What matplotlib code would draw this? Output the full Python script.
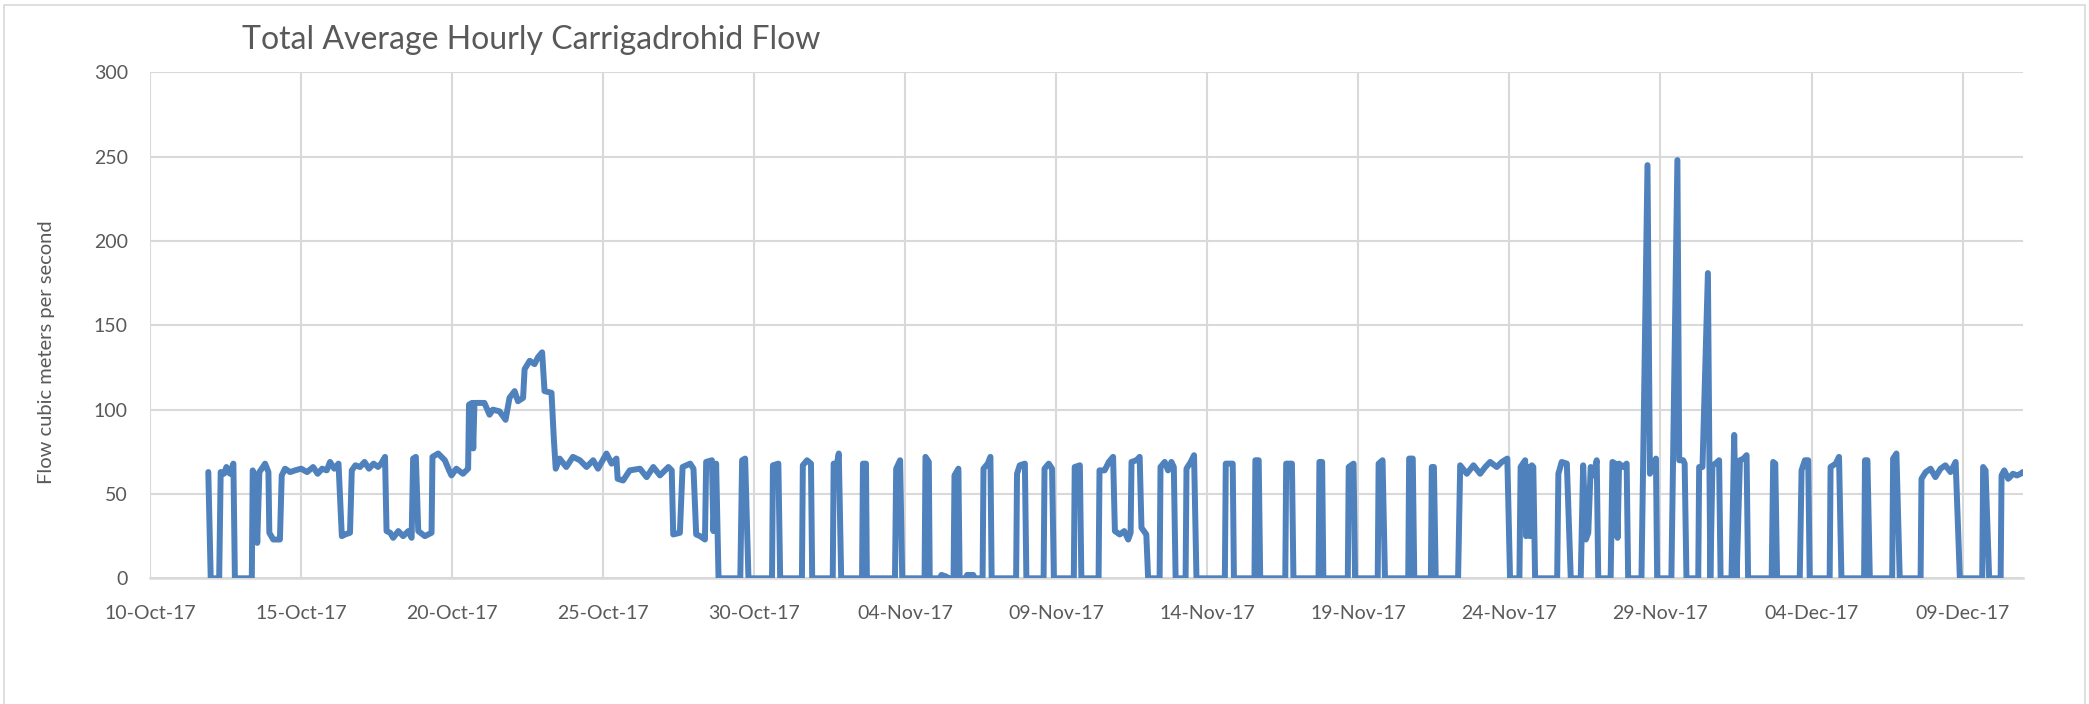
import datetime as dt
import numpy as np
import matplotlib
matplotlib.use("Agg")
import matplotlib.pyplot as plt
import matplotlib.dates as mdates
from matplotlib.patches import Rectangle

plt.rcParams['font.family'] = ['Lato', 'DejaVu Sans']

# day offsets from 10-Oct-2017 00:00 and average hourly flow (m3/s)
start = dt.datetime(2017, 10, 10)

oct_days = [1.93, 2.01, 2.29, 2.34, 2.45, 2.53, 2.60, 2.65, 2.76, 2.81,
            3.37, 3.40, 3.48, 3.55, 3.62, 3.70, 3.81, 3.92, 3.95, 4.08,
            4.30, 4.36, 4.47, 4.64, 4.80, 5.00, 5.20, 5.40, 5.55, 5.70,
            5.85, 5.96, 6.10, 6.24, 6.35, 6.46, 6.62, 6.68, 6.80, 6.95,
            7.10, 7.25, 7.40, 7.55, 7.65, 7.78, 7.83, 7.95, 8.05, 8.22,
            8.38, 8.55, 8.66, 8.71, 8.80, 8.88, 9.10, 9.32, 9.35, 9.54,
            9.76, 9.90, 9.98, 10.14, 10.36, 10.53, 10.56, 10.66, 10.70, 10.74,
            11.07, 11.24, 11.35, 11.57, 11.77, 11.90, 12.07, 12.18, 12.35, 12.40,
            12.57, 12.73, 12.84, 12.98, 13.06, 13.29, 13.37, 13.43, 13.56, 13.78,
            14.00, 14.23, 14.45, 14.67, 14.83, 15.11, 15.28, 15.44, 15.48, 15.66,
            15.88, 16.22, 16.44, 16.66, 16.88, 17.16, 17.27, 17.32, 17.54, 17.63,
            17.88, 17.99, 18.08, 18.21, 18.37, 18.41, 18.60, 18.65, 18.74, 18.82,
            19.54, 19.60, 19.70, 19.81, 20.59, 20.62, 20.80, 20.86]
oct_flow = [63, 0, 0, 63, 62, 66, 63, 62, 68, 0,
            0, 64, 60, 21, 63, 65, 68, 63, 27, 23,
            23, 61, 65, 63, 64, 65, 63, 66, 62, 65,
            64, 69, 65, 68, 25, 26, 27, 64, 67, 66,
            69, 65, 68, 66, 68, 72, 28, 27, 24, 28,
            25, 28, 24, 71, 72, 28, 25, 27, 72, 74,
            70, 64, 61, 65, 62, 65, 103, 104, 77, 104,
            104, 97, 100, 99, 94, 107, 111, 105, 107, 124,
            129, 127, 131, 134, 111, 110, 82, 65, 71, 66,
            72, 70, 66, 70, 65, 74, 68, 71, 59, 58,
            64, 65, 60, 66, 61, 66, 64, 26, 27, 66,
            68, 65, 26, 25, 23, 69, 70, 28, 68, 0,
            0, 70, 71, 0, 0, 67, 68, 0]

nov_days = [21.58, 21.61, 21.75, 21.88, 21.92, 22.60, 22.63, 22.72, 22.80, 22.88,
            23.57, 23.60, 23.70, 23.73, 24.66, 24.70, 24.83, 24.90, 25.64, 25.67,
            25.78, 25.81, 26.14, 26.20, 26.36, 26.42, 26.60, 26.63, 26.76, 26.80,
            27.00, 27.05, 27.25, 27.30, 27.56, 27.59, 27.73, 27.82, 27.86, 28.67,
            28.70, 28.79, 28.96, 29.01, 29.58, 29.61, 29.75, 29.86, 29.92, 30.58,
            30.61, 30.78, 30.83, 31.40, 31.43, 31.60, 31.74, 31.88, 31.94, 32.10,
            32.25, 32.38, 32.46, 32.49, 32.65, 32.76, 32.82, 32.98, 33.04, 33.42,
            33.45, 33.59, 33.70, 33.81, 33.89, 33.95, 34.28, 34.31, 34.45, 34.56,
            34.64, 35.58, 35.61, 35.84, 35.88, 36.56, 36.59, 36.70, 36.75, 37.58,
            37.61, 37.80, 37.85, 38.68, 38.71, 38.80, 38.84, 39.65, 39.68, 39.84,
            39.89, 40.64, 40.67, 40.80, 40.88, 41.65, 41.68, 41.80, 41.85, 42.40,
            42.43, 42.50, 42.56, 43.30, 43.37, 43.59, 43.81, 44.03, 44.20, 44.36,
            44.58, 44.75, 44.93, 45.02, 45.33, 45.37, 45.52, 45.55, 45.63, 45.68,
            45.74, 45.79, 45.85, 46.58, 46.62, 46.73, 46.90, 47.03, 47.36, 47.44,
            47.53, 47.61, 47.69, 47.78, 47.89, 47.94, 48.35, 48.41, 48.50, 48.58,
            48.63, 48.76, 48.88, 48.93, 49.37, 49.57, 49.65, 49.76, 49.85, 49.89,
            50.36, 50.56, 50.62, 50.75, 50.80, 50.86]
nov_flow = [0, 67, 70, 68, 0, 0, 68, 66, 74, 0,
            0, 68, 68, 0, 0, 65, 70, 0, 0, 72,
            69, 0, 0, 2, 1, 0, 0, 61, 65, 0,
            0, 2, 2, 0, 0, 65, 68, 72, 0, 0,
            62, 67, 68, 0, 0, 65, 68, 65, 0, 0,
            66, 67, 0, 0, 64, 64, 69, 72, 28, 26,
            28, 23, 27, 69, 70, 72, 30, 26, 0, 0,
            66, 69, 64, 69, 66, 0, 0, 65, 69, 73,
            0, 0, 68, 68, 0, 0, 70, 70, 0, 0,
            68, 68, 0, 0, 69, 69, 0, 0, 66, 68,
            0, 0, 68, 70, 0, 0, 71, 71, 0, 0,
            66, 66, 0, 0, 67, 62, 67, 62, 66, 69,
            66, 69, 71, 0, 0, 66, 70, 25, 66, 25,
            67, 66, 0, 0, 62, 69, 68, 0, 0, 67,
            23, 27, 66, 61, 70, 0, 0, 69, 68, 24,
            68, 66, 68, 0, 0, 245, 62, 68, 71, 0,
            0, 248, 70, 70, 68, 0]

dec_days = [51.25, 51.28, 51.39, 51.57, 51.65, 51.72, 51.82, 51.94, 51.99, 52.35,
            52.44, 52.52, 52.63, 52.75, 52.85, 52.90, 53.68, 53.73, 53.80, 53.86,
            54.61, 54.67, 54.78, 54.89, 54.94, 55.60, 55.63, 55.80, 55.91, 55.99,
            56.74, 56.77, 56.85, 56.93, 57.67, 57.70, 57.81, 57.92, 58.61, 58.64,
            58.78, 58.94, 59.10, 59.27, 59.43, 59.60, 59.77, 59.91, 60.65, 60.68,
            60.76, 60.88, 61.26, 61.29, 61.38, 61.51, 61.67, 61.80, 61.92, 61.99]
dec_flow = [0, 66, 66, 181, 0, 67, 68, 70, 0, 0,
            85, 0, 70, 71, 73, 0, 0, 69, 68, 0,
            0, 64, 70, 70, 0, 0, 66, 68, 72, 0,
            0, 70, 70, 0, 0, 71, 74, 0, 0, 59,
            63, 65, 60, 65, 67, 63, 69, 0, 0, 66,
            64, 0, 0, 61, 64, 59, 62, 61, 62, 63]

days = oct_days + nov_days + dec_days
flow = oct_flow + nov_flow + dec_flow
times = [start + dt.timedelta(days=d) for d in days]

W, H = 2089, 704
fig = plt.figure(figsize=(W / 100, H / 100), dpi=100)
fig.patch.set_facecolor('white')

# chart frame
fig.patches.append(Rectangle((4 / W, -0.02), (2085 - 4) / W, 1.02 - 5 / H,
                             transform=fig.transFigure, fill=False,
                             edgecolor='#D9D9D9', linewidth=1.2))

ax = fig.add_axes([150 / W, (H - 578.3) / H, (2023 - 150) / W, (578.3 - 72.4) / H])
ax.plot(times, flow, color='#4F81BD', linewidth=4.3, solid_joinstyle='round',
        solid_capstyle='round', zorder=3)

ax.set_xlim(start, start + dt.timedelta(days=62))
ax.set_ylim(0, 300)
ax.set_yticks(np.arange(0, 301, 50))
ax.set_xticks([start + dt.timedelta(days=5 * i) for i in range(13)])
ax.xaxis.set_major_formatter(mdates.DateFormatter('%d-%b-%y'))

ax.grid(True, color='#D9D9D9', linewidth=1.5)
ax.set_axisbelow(True)
for s in ['top', 'right', 'left']:
    ax.spines[s].set_visible(False)
ax.spines['bottom'].set_color('#D9D9D9')
ax.spines['bottom'].set_linewidth(1.8)
ax.tick_params(axis='both', length=0, labelsize=14, labelcolor='#595959')
ax.tick_params(axis='x', pad=19)
ax.tick_params(axis='y', pad=16)

fig.text(47 / W, 1 - 352 / H, 'Flow cubic meters per second', rotation=90,
         ha='center', va='center', fontsize=14.5, color='#595959')
fig.text(531 / W, 1 - 40 / H, 'Total Average Hourly Carrigadrohid Flow',
         ha='center', va='center', fontsize=23, color='#595959')

fig.savefig('out.png', dpi=100)
